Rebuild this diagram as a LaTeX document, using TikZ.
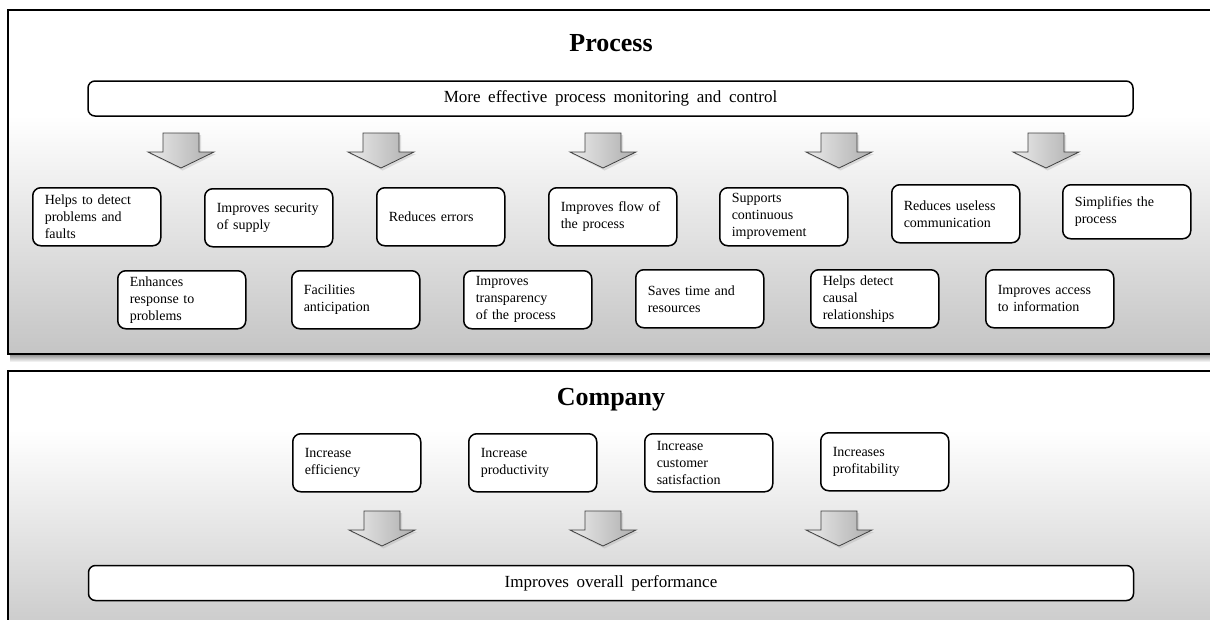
\documentclass[tikz,border=0pt]{standalone}
\usepackage{fontspec}
\setmainfont{Liberation Serif}
\newcommand\mywidespace{\spaceskip=0.45em\relax}
\begin{document}
\begin{tikzpicture}[x=1pt,y=-1pt,
  box/.style={draw=black, line width=1.5pt, rounded corners=8pt, fill=white, align=left,
    text width=104pt, inner xsep=12pt, inner ysep=0pt, minimum height=58pt,
    font=\fontsize{14}{17}\selectfont, anchor=north west},
  wide/.style={draw=black, line width=1.5pt, rounded corners=7pt, fill=white,
    minimum width=1045pt, minimum height=35pt, inner sep=0pt,
    font={\fontsize{17}{20}\selectfont\mywidespace}},
  paneltitle/.style={font=\fontsize{26}{30}\selectfont\bfseries},
  panelline/.style={draw=black, line width=2pt},
  darrow/.pic={
    \fill[black!40, opacity=0.28] (-16,2) -- (20,2) -- (20,21) -- (35,21) -- (1.5,37.5) -- (-31,21) -- (-16,21) -- cycle;
    \shade[draw=black!75, line width=0.8pt, left color=black!8, right color=black!32]
      (-18,0) -- (18,0) -- (18,19) -- (33,19) -- (0,35) -- (-33,19) -- (-18,19) -- cycle;
  }
]
\useasboundingbox (0,0) rectangle (1210,619);

% ---------- Process panel ----------
\fill[white] (8,10) rectangle (1216,116);
\shade[top color=white, bottom color=black!23] (8,115) rectangle (1216,354);
\shade[top color=black!40, bottom color=white] (10,355) rectangle (1216,362);
\draw[panelline] (8,10) rectangle (1216,354);

\node[paneltitle] (ptitle) at (611,43) {Process};
\node[wide] (monitor) at (610.5,98.5) {More effective process monitoring and control};

\pic at (181,133) {darrow};
\pic at (381,133) {darrow};
\pic at (603,133) {darrow};
\pic at (839,133) {darrow};
\pic at (1046,133) {darrow};

\node[box] (b1) at (32,187) {Helps to detect\\problems and\\faults};
\node[box] (b2) at (204,188) {Improves security\\of supply};
\node[box] (b3) at (376,187) {Reduces errors};
\node[box] (b4) at (548,187) {Improves flow of\\the process};
\node[box] (b5) at (719,187) {Supports\\continuous\\improvement};
\node[box] (b6) at (891,184) {Reduces useless\\communication};
\node[box, minimum height=54pt] (b7) at (1062,184) {Simplifies the\\process};

\node[box] (b8) at (117,270) {Enhances\\response to\\problems};
\node[box] (b9) at (291,270) {Facilities\\anticipation};
\node[box] (b10) at (463,270) {Improves\\transparency\\of the process};
\node[box] (b11) at (635,269) {Saves time and\\resources};
\node[box] (b12) at (810,269) {Helps detect\\causal\\relationships};
\node[box] (b13) at (985,269) {Improves access\\to information};

% ---------- Company panel ----------
\fill[white] (8,371) rectangle (1216,431);
\shade[top color=white, bottom color=black!20] (8,430) rectangle (1216,625);
\draw[panelline] (8,630) -- (8,371) -- (1216,371);

\node[paneltitle] (ctitle) at (611,400) {Company};

\node[box] (c1) at (292,433) {Increase\\efficiency};
\node[box] (c2) at (468,433) {Increase\\productivity};
\node[box] (c3) at (644,433) {Increase\\customer\\satisfaction};
\node[box] (c4) at (820,432) {Increases\\profitability};

\pic at (382,511) {darrow};
\pic at (603,511) {darrow};
\pic at (839,511) {darrow};

\node[wide] (overall) at (611,583) {Improves overall performance};
\end{tikzpicture}
\end{document}
